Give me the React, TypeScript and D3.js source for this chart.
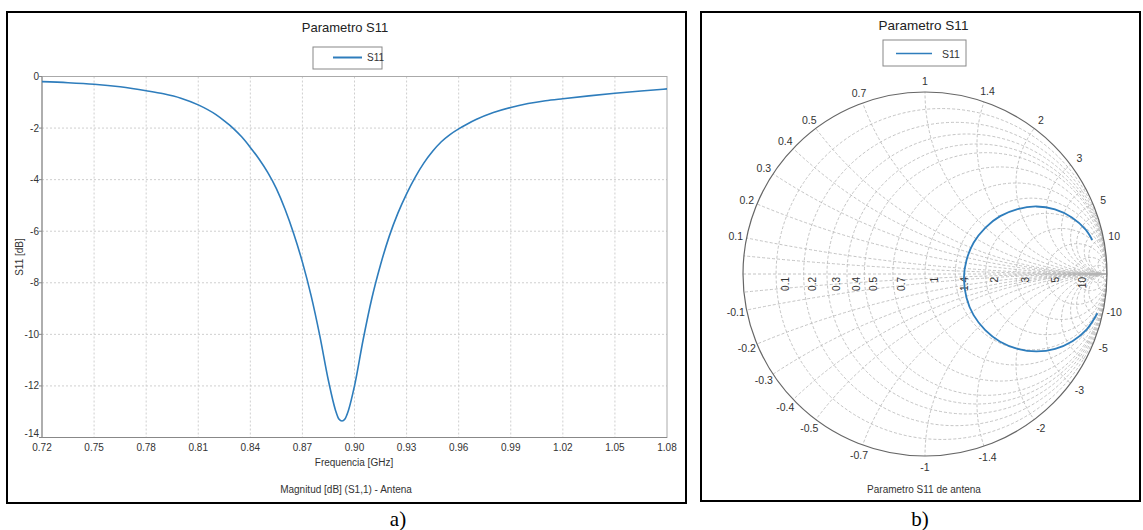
import React from "react";
import * as d3 from "d3";

// ---------- data ----------
const freqGHz = [0.72, 0.735, 0.75, 0.765, 0.78, 0.79, 0.8, 0.81, 0.82, 0.825, 0.83, 0.835, 0.84, 0.845, 0.85, 0.855, 0.86, 0.865, 0.87, 0.875, 0.88, 0.885, 0.889, 0.891, 0.8928, 0.8945, 0.8965, 0.9, 0.905, 0.91, 0.915, 0.92, 0.925, 0.93, 0.935, 0.94, 0.945, 0.95, 0.955, 0.96, 0.965, 0.97, 0.98, 0.99, 1.0, 1.01, 1.02, 1.035, 1.05, 1.065, 1.08];
const s11dB = [-0.2, -0.24, -0.3, -0.4, -0.55, -0.67, -0.84, -1.1, -1.47, -1.72, -2.0, -2.34, -2.75, -3.2, -3.72, -4.35, -5.15, -6.1, -7.2, -8.5, -10.05, -11.8, -12.93, -13.28, -13.36, -13.28, -12.95, -12.0, -10.2, -8.6, -7.3, -6.2, -5.3, -4.55, -3.9, -3.35, -2.9, -2.53, -2.25, -2.03, -1.84, -1.67, -1.4, -1.2, -1.05, -0.94, -0.86, -0.75, -0.65, -0.56, -0.48];

const xTicks = [0.72, 0.75, 0.78, 0.81, 0.84, 0.87, 0.9, 0.93, 0.96, 0.99, 1.02, 1.05, 1.08];
const xTickLabels = ["0.72", "0.75", "0.78", "0.81", "0.84", "0.87", "0.90", "0.93", "0.96", "0.99", "1.02", "1.05", "1.08"];
const yTicks = [0, -2, -4, -6, -8, -10, -12, -14];

// reflection coefficient (low -> high frequency)
const gammaRe = [0.947, 0.889, 0.81, 0.715, 0.612, 0.509, 0.413, 0.331, 0.267, 0.228, 0.214, 0.228, 0.267, 0.331, 0.413, 0.509, 0.612, 0.714, 0.807, 0.883, 0.919];
const gammaIm = [-0.216, -0.304, -0.369, -0.411, -0.425, -0.411, -0.372, -0.308, -0.226, -0.13, -0.02, 0.076, 0.172, 0.254, 0.318, 0.357, 0.371, 0.355, 0.311, 0.244, 0.187];

const smithValues = [0.1, 0.2, 0.3, 0.4, 0.5, 0.7, 1, 1.4, 2, 3, 5, 10];
const smithLabels = ["0.1", "0.2", "0.3", "0.4", "0.5", "0.7", "1", "1.4", "2", "3", "5", "10"];
const smithMinorReactance = [0.05, 4, 6, 8, 20, 50];
const smithMinorResistance = [20, 50];

const BLUE = "#2e7dbc";
const NARROW = "'Liberation Sans Narrow', 'Arial Narrow', 'Liberation Sans', Arial, sans-serif";
const SANS = "'Liberation Sans', Arial, sans-serif";

function LeftChart() {
  const x = d3.scaleLinear().domain([0.72, 1.08]).range([42, 667]);
  const y = d3.scaleLinear().domain([-14, 0]).range([437.5, 76.5]);
  const line = d3
    .line<number>()
    .x((_, i) => x(freqGHz[i]))
    .y((d) => y(d))
    .curve(d3.curveMonotoneX);
  return (
    <g>
      <rect x={7} y={12} width={679} height={491} fill="#fff" stroke="#000" strokeWidth={2} />
      <text x={345} y={32} textAnchor="middle" fontFamily={NARROW} fontSize={13} fill="#222">Parametro S11</text>
      <rect x={313} y={47} width={69} height={22} fill="#fff" stroke="#888" strokeWidth={1} />
      <line x1={333} x2={362} y1={57.5} y2={57.5} stroke={BLUE} strokeWidth={2} />
      <text x={367} y={61} fontFamily={NARROW} fontSize={10} fill="#333">S11</text>
      {xTicks.slice(1, -1).map((t) => (
        <line key={"gx" + t} x1={x(t)} x2={x(t)} y1={y(0)} y2={y(-14)} stroke="#cfcfcf" strokeDasharray="2,2" strokeWidth={1} />
      ))}
      {yTicks.slice(1, -1).map((t) => (
        <line key={"gy" + t} x1={x(0.72)} x2={x(1.08)} y1={y(t)} y2={y(t)} stroke="#cfcfcf" strokeDasharray="2,2" strokeWidth={1} />
      ))}
      <rect x={x(0.72)} y={y(0)} width={x(1.08) - x(0.72)} height={y(-14) - y(0)} fill="none" stroke="#aaa" strokeWidth={1} />
      <line x1={x(0.72)} x2={x(0.72)} y1={y(0)} y2={y(-14)} stroke="#888" strokeWidth={1} />
      <line x1={x(0.72)} x2={x(1.08)} y1={y(-14)} y2={y(-14)} stroke="#888" strokeWidth={1} />
      {yTicks.map((t) => (
        <g key={"ty" + t}>
          <line x1={x(0.72) - 3} x2={x(0.72)} y1={y(t)} y2={y(t)} stroke="#888" />
          <text x={x(0.72) - 3} y={y(t) + (t === -14 ? -1 : 3.5)} textAnchor="end" fontFamily={NARROW} fontSize={10} fill="#333">{t}</text>
        </g>
      ))}
      {xTicks.map((t, i) => (
        <text key={"tx" + t} x={x(t)} y={451} textAnchor="middle" fontFamily={NARROW} fontSize={10} fill="#333">{xTickLabels[i]}</text>
      ))}
      <path d={line(s11dB) || ""} fill="none" stroke={BLUE} strokeWidth={1.6} />
      <text x={354} y={466} textAnchor="middle" fontFamily={NARROW} fontSize={10} fill="#333">Frequencia [GHz]</text>
      <text x={346} y={493} textAnchor="middle" fontFamily={NARROW} fontSize={10} fill="#333">Magnitud [dB] (S1,1) - Antena</text>
      <text transform="translate(23,257) rotate(-90)" textAnchor="middle" fontFamily={NARROW} fontSize={10} fill="#333">S11 [dB]</text>
    </g>
  );
}

function RightChart() {
  const cx = 925, cy = 274, R = 182;
  const sx = d3.scaleLinear().domain([-1, 1]).range([cx - R, cx + R]);
  const sy = d3.scaleLinear().domain([-1, 1]).range([cy + R, cy - R]);
  const pts = gammaRe.map((re, i) => [re, gammaIm[i]] as [number, number]);
  const line = d3
    .line<[number, number]>()
    .x((d) => sx(d[0]))
    .y((d) => sy(d[1]))
    .curve(d3.curveCatmullRom.alpha(0.5));
  const gridStroke = "#b5b5b5";
  const labelR = R + 11;
  const resist = [...smithValues, ...smithMinorResistance];
  const react = [...smithValues, ...smithMinorReactance];
  return (
    <g>
      <rect x={701} y={12} width={439} height={489} fill="#fff" stroke="#000" strokeWidth={2} />
      <defs>
        <clipPath id="unit">
          <circle cx={cx} cy={cy} r={R} />
        </clipPath>
      </defs>
      <text x={923.5} y={30} textAnchor="middle" fontFamily={SANS} fontSize={13.5} fill="#222">Parametro S11</text>
      <rect x={883} y={40} width={83} height={26} fill="#fff" stroke="#888" strokeWidth={1} />
      <line x1={896} x2={932} y1={53.5} y2={53.5} stroke={BLUE} strokeWidth={1.6} />
      <text x={942} y={57.5} fontFamily={SANS} fontSize={10.5} fill="#333">S11</text>
      <g clipPath="url(#unit)" fill="none" stroke={gridStroke} strokeWidth={0.8} strokeDasharray="3,2">
        {resist.map((r) => (
          <circle key={"r" + r} cx={sx(r / (1 + r))} cy={sy(0)} r={R / (1 + r)} />
        ))}
        {react.map((v) => (
          <g key={"x" + v}>
            <circle cx={sx(1)} cy={sy(1 / v)} r={R / v} />
            <circle cx={sx(1)} cy={sy(-1 / v)} r={R / v} />
          </g>
        ))}
        <line x1={sx(-1)} x2={sx(1)} y1={sy(0)} y2={sy(0)} />
      </g>
      <circle cx={cx} cy={cy} r={R} fill="none" stroke="#666" strokeWidth={1.2} />
      {smithValues.map((v, i) => {
        const a = Math.atan2(2 * v, v * v - 1);
        return (
          <g key={"lx" + v}>
            <text x={cx + labelR * Math.cos(a)} y={cy - labelR * Math.sin(a)} textAnchor="middle" dominantBaseline="central" fontFamily={SANS} fontSize={10.5} fill="#333">{smithLabels[i]}</text>
            <text x={cx + labelR * Math.cos(a)} y={cy + labelR * Math.sin(a)} textAnchor="middle" dominantBaseline="central" fontFamily={SANS} fontSize={10.5} fill="#333">{"-" + smithLabels[i]}</text>
          </g>
        );
      })}
      {smithValues.map((r, i) => (
        <text key={"lr" + r} transform={`translate(${sx((r - 1) / (r + 1)) + 9},${cy + 3}) rotate(-90)`} textAnchor="end" dominantBaseline="central" fontFamily={SANS} fontSize={10} fill="#333">{smithLabels[i]}</text>
      ))}
      <path d={line(pts) || ""} fill="none" stroke={BLUE} strokeWidth={1.8} />
      <text x={924} y={493} textAnchor="middle" fontFamily={SANS} fontSize={10} fill="#333">Parametro S11 de antena</text>
    </g>
  );
}

export default function App() {
  return (
    <svg width={1143} height={530} style={{ position: "absolute", left: 0, top: 0, background: "#fff" }}>
      <rect x={0} y={0} width={1143} height={530} fill="#fff" />
      <LeftChart />
      <RightChart />
      <text x={398} y={526} textAnchor="middle" fontFamily="'Liberation Serif', 'Times New Roman', serif" fontSize={21} fill="#000">a)</text>
      <text x={920} y={526} textAnchor="middle" fontFamily="'Liberation Serif', 'Times New Roman', serif" fontSize={21} fill="#000">b)</text>
    </svg>
  );
}
